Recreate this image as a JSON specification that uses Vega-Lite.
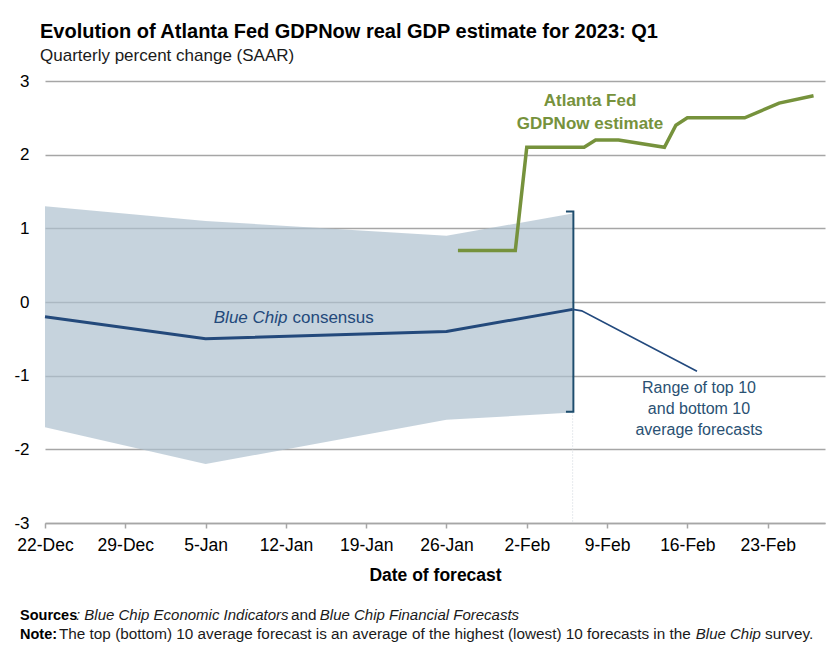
{
  "$schema": "https://vega.github.io/schema/vega-lite/v6.json",
  "width": 780,
  "height": 442,
  "autosize": {"type": "none"},
  "padding": {"left": 45, "top": 81, "right": 9, "bottom": 135},
  "background": "white",
  "config": {"font": "Liberation Sans", "view": {"stroke": null}},
  "title": {
    "text": "Evolution of Atlanta Fed GDPNow real GDP estimate for 2023: Q1",
    "subtitle": "Quarterly percent change (SAAR)",
    "anchor": "start",
    "frame": "group",
    "dx": -5,
    "offset": 8,
    "font": "Liberation Sans",
    "fontSize": 20,
    "fontWeight": "bold",
    "color": "#000000",
    "subtitleFont": "Liberation Sans",
    "subtitleFontSize": 17,
    "subtitleColor": "#1a1a1a",
    "subtitlePadding": 6
  },
  "datasets": {
    "bluechip": [
      {"date": "2022-12-22", "lo": -1.7, "hi": 1.3, "consensus": -0.2},
      {"date": "2023-01-05", "lo": -2.2, "hi": 1.1, "consensus": -0.5},
      {"date": "2023-01-26", "lo": -1.6, "hi": 0.9, "consensus": -0.4},
      {"date": "2023-02-06", "lo": -1.5, "hi": 1.2, "consensus": -0.1}
    ],
    "gdpnow": [
      {"date": "2023-01-27", "value": 0.7},
      {"date": "2023-02-01", "value": 0.7},
      {"date": "2023-02-02", "value": 2.1},
      {"date": "2023-02-07", "value": 2.1},
      {"date": "2023-02-08", "value": 2.2},
      {"date": "2023-02-10", "value": 2.2},
      {"date": "2023-02-14", "value": 2.1},
      {"date": "2023-02-15", "value": 2.4},
      {"date": "2023-02-16", "value": 2.5},
      {"date": "2023-02-21", "value": 2.5},
      {"date": "2023-02-24", "value": 2.7},
      {"date": "2023-02-27", "value": 2.8}
    ],
    "bracket": [
      {"i": 1, "date": "2023-02-05T10:00Z", "value": 1.23},
      {"i": 2, "date": "2023-02-06T01:30Z", "value": 1.23},
      {"i": 3, "date": "2023-02-06T01:30Z", "value": -1.49},
      {"i": 4, "date": "2023-02-05T10:00Z", "value": -1.49}
    ],
    "leader": [
      {"i": 1, "date": "2023-02-06T00:00Z", "value": -0.1},
      {"i": 2, "date": "2023-02-06T19:00Z", "value": -0.12},
      {"i": 3, "date": "2023-02-16T20:10Z", "value": -0.94}
    ],
    "guide": [
      {"date": "2023-02-06T00:00Z", "value": -1.5, "value2": -3}
    ],
    "greenText": [
      {"date": "2023-02-07T12:18Z", "value": 2.73, "label": "Atlanta Fed"},
      {"date": "2023-02-07T12:18Z", "value": 2.42, "label": "GDPNow estimate"}
    ],
    "bcItalic": [
      {"date": "2023-01-12T07:34Z", "value": -0.22, "label": "Blue Chip"}
    ],
    "bcNormal": [
      {"date": "2023-01-12T07:34Z", "value": -0.22, "label": "consensus"}
    ],
    "rangeText": [
      {"date": "2023-02-17T00:23Z", "value": -1.167, "label": "Range of top 10"},
      {"date": "2023-02-17T00:23Z", "value": -1.452, "label": "and bottom 10"},
      {"date": "2023-02-17T00:23Z", "value": -1.738, "label": "average forecasts"}
    ],
    "footBold": [
      {"date": "2022-12-19T19:41Z", "value": -4.317, "label": "Sources"},
      {"date": "2022-12-19T19:41Z", "value": -4.575, "label": "Note:"}
    ],
    "footItalic": [
      {"date": "2022-12-24T16:52Z", "value": -4.317, "label": ": Blue Chip Economic Indicators"},
      {"date": "2023-01-14T23:00Z", "value": -4.317, "label": "Blue Chip Financial Forecasts"},
      {"date": "2023-02-16T17:45Z", "value": -4.575, "label": "Blue Chip"}
    ],
    "footNormal": [
      {"date": "2023-01-12T10:42Z", "value": -4.317, "label": "and"},
      {"date": "2022-12-23T05:18Z", "value": -4.575, "label": "The top (bottom) 10 average forecast is an average of the highest (lowest) 10 forecasts in the"},
      {"date": "2023-02-22T18:30Z", "value": -4.575, "label": "survey."}
    ]
  },
  "encoding": {
    "x": {
      "field": "date",
      "type": "temporal",
      "scale": {
        "type": "utc",
        "domain": [
          {"year": 2022, "month": 12, "date": 22, "utc": true},
          {"year": 2023, "month": 2, "date": 28, "utc": true}
        ]
      },
      "axis": {
        "title": "Date of forecast",
        "values": [
          {"year": 2022, "month": 12, "date": 22, "utc": true},
          {"year": 2022, "month": 12, "date": 29, "utc": true},
          {"year": 2023, "month": 1, "date": 5, "utc": true},
          {"year": 2023, "month": 1, "date": 12, "utc": true},
          {"year": 2023, "month": 1, "date": 19, "utc": true},
          {"year": 2023, "month": 1, "date": 26, "utc": true},
          {"year": 2023, "month": 2, "date": 2, "utc": true},
          {"year": 2023, "month": 2, "date": 9, "utc": true},
          {"year": 2023, "month": 2, "date": 16, "utc": true},
          {"year": 2023, "month": 2, "date": 23, "utc": true}
        ],
        "format": "%-d-%b",
        "grid": false,
        "labelFontSize": 17.5,
        "labelColor": "#000000",
        "labelPadding": 8,
        "labelFlush": false,
        "labelOverlap": false,
        "tickSize": 5,
        "tickColor": "#a6a6a6",
        "tickWidth": 1.5,
        "domainColor": "#a6a6a6",
        "domainWidth": 1.5,
        "titleFontSize": 17.5,
        "titleFontWeight": "bold",
        "titleColor": "#000000",
        "titlePadding": 13
      }
    },
    "y": {
      "field": "value",
      "type": "quantitative",
      "scale": {"domain": [-3, 3], "nice": false},
      "axis": {
        "title": null,
        "values": [-3, -2, -1, 0, 1, 2, 3],
        "labelExpr": "datum.value < 0 ? '-' + abs(datum.value) : '' + datum.value",
        "grid": true,
        "gridColor": "#a6a6a6",
        "gridWidth": 1.3,
        "domain": false,
        "ticks": false,
        "tickSize": 0,
        "labelPadding": 16,
        "labelFontSize": 17,
        "labelColor": "#000000"
      }
    }
  },
  "layer": [
    {
      "data": {"name": "bluechip"},
      "mark": {"type": "area", "color": "#aec0ce", "opacity": 0.7},
      "encoding": {
        "y": {"field": "lo", "type": "quantitative"},
        "y2": {"field": "hi"}
      }
    },
    {
      "data": {"name": "guide"},
      "mark": {"type": "rule", "color": "#cfd6dc", "strokeWidth": 1, "strokeDash": [1, 2]},
      "encoding": {
        "y2": {"field": "value2"}
      }
    },
    {
      "data": {"name": "bluechip"},
      "mark": {"type": "line", "color": "#23497b", "strokeWidth": 3},
      "encoding": {
        "y": {"field": "consensus", "type": "quantitative"}
      }
    },
    {
      "data": {"name": "gdpnow"},
      "mark": {"type": "line", "color": "#76923c", "strokeWidth": 3.5},
      "encoding": {}
    },
    {
      "data": {"name": "bracket"},
      "mark": {"type": "line", "color": "#1e4d6e", "strokeWidth": 2},
      "encoding": {"order": {"field": "i", "type": "quantitative"}}
    },
    {
      "data": {"name": "leader"},
      "mark": {"type": "line", "color": "#22497d", "strokeWidth": 1.6},
      "encoding": {"order": {"field": "i", "type": "quantitative"}}
    },
    {
      "data": {"name": "greenText"},
      "mark": {"type": "text", "color": "#76923c", "fontSize": 17, "fontWeight": "bold", "align": "center", "baseline": "middle"},
      "encoding": {"text": {"field": "label"}}
    },
    {
      "data": {"name": "bcItalic"},
      "mark": {"type": "text", "color": "#23497b", "fontSize": 17, "fontStyle": "italic", "align": "right", "baseline": "middle", "dx": -2},
      "encoding": {"text": {"field": "label"}}
    },
    {
      "data": {"name": "bcNormal"},
      "mark": {"type": "text", "color": "#23497b", "fontSize": 17, "align": "left", "baseline": "middle", "dx": 3},
      "encoding": {"text": {"field": "label"}}
    },
    {
      "data": {"name": "rangeText"},
      "mark": {"type": "text", "color": "#2a5173", "fontSize": 16, "align": "center", "baseline": "middle"},
      "encoding": {"text": {"field": "label"}}
    },
    {
      "data": {"name": "footBold"},
      "mark": {"type": "text", "color": "#000000", "fontSize": 14.5, "fontWeight": "bold", "align": "left", "baseline": "alphabetic"},
      "encoding": {"text": {"field": "label"}}
    },
    {
      "data": {"name": "footItalic"},
      "mark": {"type": "text", "color": "#1a1a1a", "fontSize": 15, "fontStyle": "italic", "align": "left", "baseline": "alphabetic"},
      "encoding": {"text": {"field": "label"}}
    },
    {
      "data": {"name": "footNormal"},
      "mark": {"type": "text", "color": "#1a1a1a", "fontSize": 15.3, "align": "left", "baseline": "alphabetic"},
      "encoding": {"text": {"field": "label"}}
    }
  ]
}
